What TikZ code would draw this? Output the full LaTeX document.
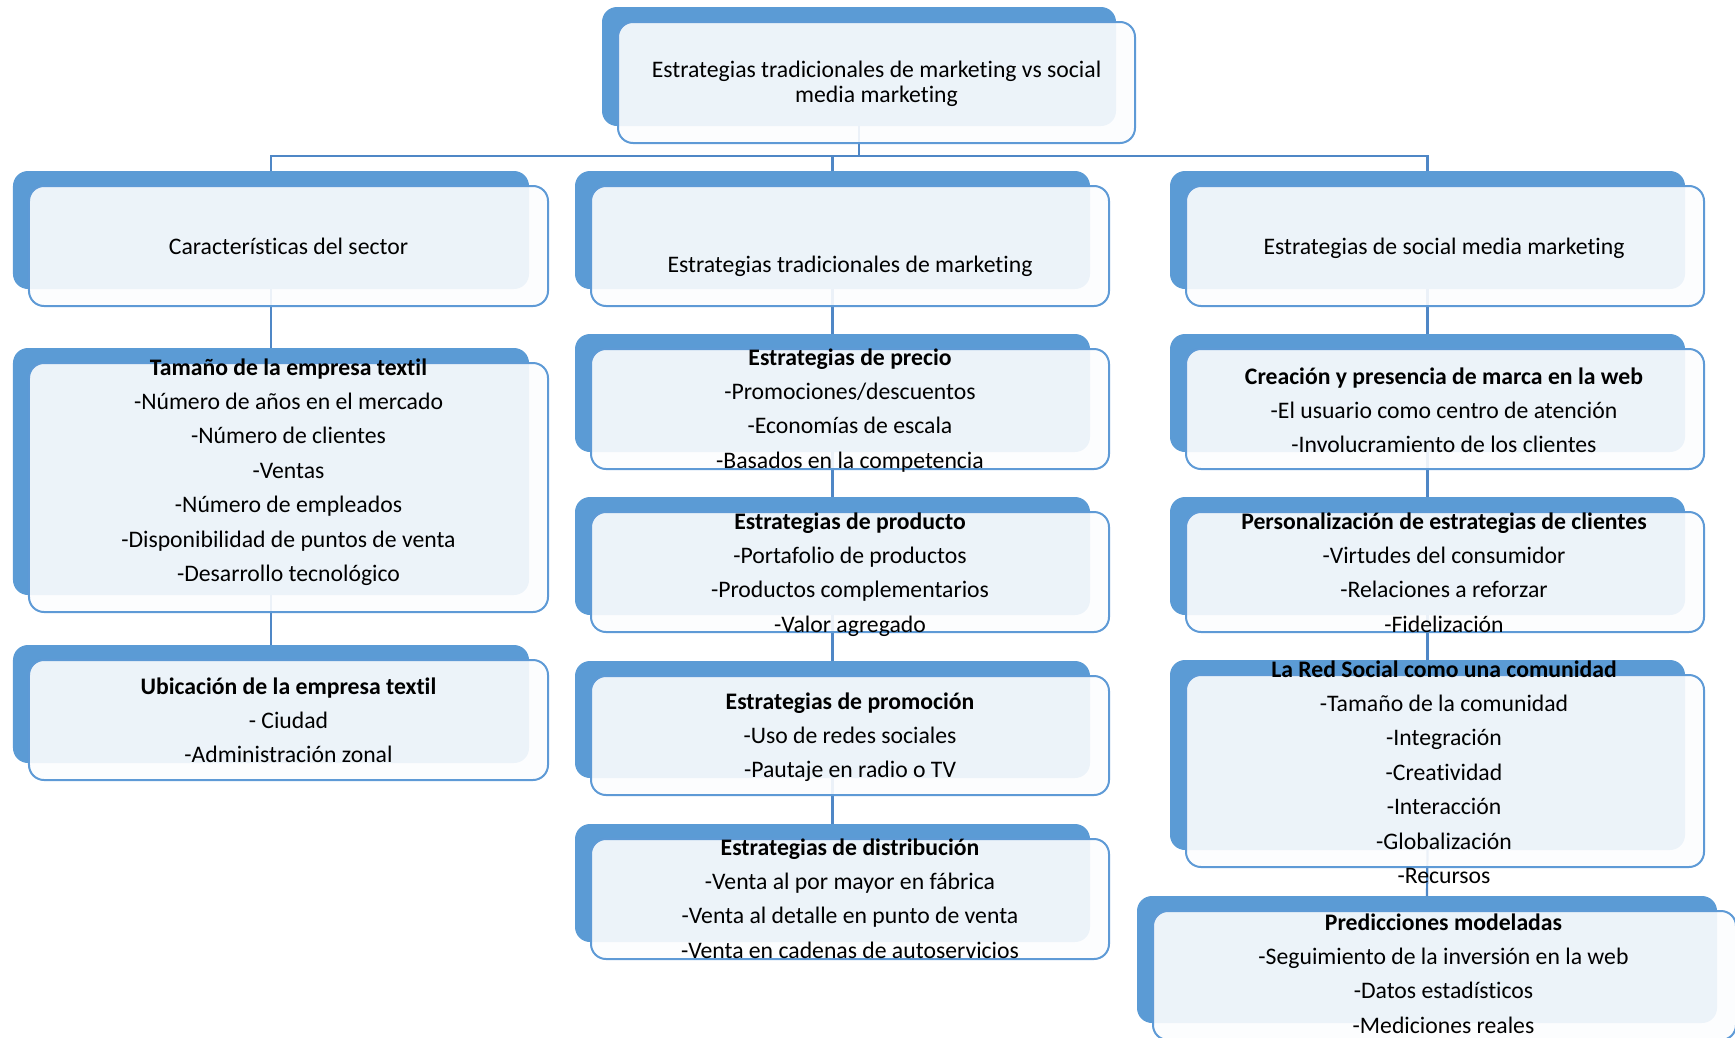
\documentclass[tikz,border=0pt]{standalone}
\usepackage{fontspec}
\setmainfont[Ligatures=NoCommon]{Carlito}
\definecolor{bblue}{HTML}{5B9BD5}
\definecolor{fblue}{HTML}{5E9AD6}
\definecolor{cblue}{HTML}{4F87C6}
\definecolor{ffill}{HTML}{FCFDFE}
\newcommand\backbx[5]{\node[backbox, minimum width=#4bp, minimum height=#5bp] (#1) at ({#2+#4/2},{#3+#5/2}) {};}
\newcommand\frontbx[5]{\node[frontbox, minimum width={#4bp+3bp}, minimum height={#5bp+2bp}] (#1f) at ({#2+16+(#4+3)/2},{#3+15+(#5+2)/2}) {};}
\newcommand\txtlines[5]{\foreach \t [count=\i] in {#5} {\node[txt] (#1t\i) at (#2,{#3+(\i-1)*#4}) {\t};}}
\begin{document}
\begin{tikzpicture}[x=1bp,y=-1bp,
 backbox/.style={fill=bblue, draw=none, rounded corners=15bp, inner sep=0pt, outer sep=0pt},
 frontbox/.style={fill=ffill, fill opacity=0.9, draw=fblue, draw opacity=1, line width=2bp, rounded corners=15bp, inner sep=0pt, outer sep=0pt},
 conn/.style={draw=cblue, line width=2.2bp},
 txt/.style={anchor=base, inner sep=0pt, font=\fontsize{23.7bp}{28bp}\selectfont, text=black}]
\useasboundingbox (0,0) rectangle (1735,1037);
\clip (0,0) rectangle (1735,1037);
% back boxes
\backbx{top}{602}{7}{514}{119}
\backbx{La}{13}{171}{516}{118}
\backbx{Lb}{575}{171}{515}{118}
\backbx{Lc}{1170}{171}{515}{118}
\backbx{left2}{13}{348}{516}{247}
\backbx{left3}{13}{645}{516}{118}
\backbx{mid2}{575}{334}{515}{118}
\backbx{mid3}{575}{497}{515}{118}
\backbx{mid4}{575}{661}{515}{117}
\backbx{mid5}{575}{824}{515}{118}
\backbx{right2}{1170}{334}{515}{118}
\backbx{right3}{1170}{497}{515}{118}
\backbx{right4}{1170}{660}{515}{190}
\backbx{right5}{1137}{896}{580}{127}
% connectors
\coordinate (hub) at (top.south |- 0,156);
\draw[conn] (top.south) -- (hub);
\draw[conn] (La.north) -- (La.north |- hub) -- (Lc.north |- hub) -- (Lc.north);
\draw[conn] (Lb.north) -- (Lb.north |- hub);
\draw[conn] (La.south) -- (left2.north);
\draw[conn] (left2.south) -- (left3.north);
\draw[conn] (Lb.south) -- (mid2.north);
\draw[conn] (mid2.south) -- (mid3.north);
\draw[conn] (mid3.south) -- (mid4.north);
\draw[conn] (mid4.south) -- (mid5.north);
\draw[conn] (Lc.south) -- (right2.north);
\draw[conn] (right2.south) -- (right3.north);
\draw[conn] (right3.south) -- (right4.north);
\draw[conn] (right4.south) -- (right5.north);
% front boxes
\frontbx{top}{602}{7}{514}{119}
\frontbx{La}{13}{171}{516}{118}
\frontbx{Lb}{575}{171}{515}{118}
\frontbx{Lc}{1170}{171}{515}{118}
\frontbx{left2}{13}{348}{516}{247}
\frontbx{left3}{13}{645}{516}{118}
\frontbx{mid2}{575}{334}{515}{118}
\frontbx{mid3}{575}{497}{515}{118}
\frontbx{mid4}{575}{661}{515}{117}
\frontbx{mid5}{575}{824}{515}{118}
\frontbx{right2}{1170}{334}{515}{118}
\frontbx{right3}{1170}{497}{515}{118}
\frontbx{right4}{1170}{660}{515}{190}
\frontbx{right5}{1137}{896}{580}{127}
% texts
\txtlines{top}{876.5}{77.5}{24.5}{Estrategias tradicionales de marketing vs social, media marketing}
\txtlines{La}{288.5}{254}{34.4}{Características del sector}
\txtlines{Lb}{850}{272}{34.4}{Estrategias tradicionales de marketing}
\txtlines{Lc}{1444}{254}{34.4}{Estrategias de social media marketing}
\txtlines{left2}{288.5}{375}{34.4}{\textbf{Tamaño de la empresa textil}, -Número de años en el mercado, -Número de clientes, -Ventas, -Número de empleados, -Disponibilidad de puntos de venta, -Desarrollo tecnológico}
\txtlines{left3}{288.5}{694}{34.4}{\textbf{Ubicación de la empresa textil}, - Ciudad, -Administración zonal}
\txtlines{mid2}{850}{365}{34.4}{\textbf{Estrategias de precio}, -Promociones/descuentos, -Economías de escala, -Basados en la competencia}
\txtlines{mid3}{850}{529}{34.4}{\textbf{Estrategias de producto}, -Portafolio de productos, -Productos complementarios, -Valor agregado}
\txtlines{mid4}{850}{709}{34.4}{\textbf{Estrategias de promoción}, -Uso de redes sociales, -Pautaje en radio o TV}
\txtlines{mid5}{850}{855}{34.4}{\textbf{Estrategias de distribución}, -Venta al por mayor en fábrica, -Venta al detalle en punto de venta, -Venta en cadenas de autoservicios}
\txtlines{right2}{1444}{384}{34.4}{\textbf{Creación y presencia de marca en la web}, -El usuario como centro de atención, -Involucramiento de los clientes}
\txtlines{right3}{1444}{529}{34.4}{\textbf{Personalización de estrategias de clientes}, -Virtudes del consumidor, -Relaciones a reforzar, -Fidelización}
\txtlines{right4}{1444}{677}{34.4}{\textbf{La Red Social como una comunidad}, -Tamaño de la comunidad, -Integración, -Creatividad, -Interacción, -Globalización, -Recursos}
\txtlines{right5}{1443.5}{930}{34.4}{\textbf{Predicciones modeladas}, -Seguimiento de la inversión en la web, -Datos estadísticos, -Mediciones reales}
\end{tikzpicture}
\end{document}
